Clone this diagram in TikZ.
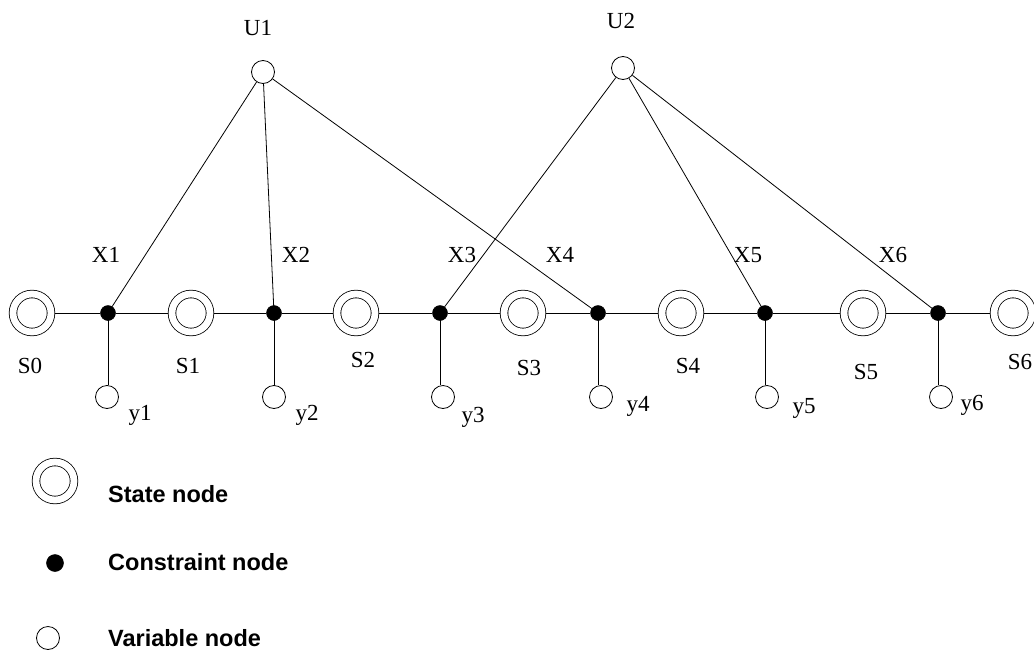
\documentclass[tikz,border=0pt]{standalone}
\usepackage{fontspec}
\setmainfont{Liberation Serif}
\newfontfamily\legendfont{Liberation Sans}
\begin{document}
\begin{tikzpicture}[x=1pt,y=-1pt,
  state/.style={circle,draw,line width=0.8pt,double,double distance=6.8pt,minimum size=38pt,inner sep=0pt,outer sep=4.2pt},
  con/.style={circle,fill=black,draw=black,line width=0.5pt,minimum size=15pt,inner sep=0pt},
  var/.style={circle,draw,line width=0.8pt,minimum size=23pt,inner sep=0pt},
  lab/.style={font=\fontsize{23}{27}\selectfont,inner sep=0pt},
  leg/.style={font=\legendfont\bfseries\fontsize{23.5}{28}\selectfont,anchor=west,inner sep=0pt},
  link/.style={line width=0.8pt}]
\useasboundingbox (0,0) rectangle (1034,651);

% state nodes
\node[state] (S0) at (32,313) {};
\node[state] (S1) at (191,313) {};
\node[state] (S2) at (356,313) {};
\node[state] (S3) at (523,313) {};
\node[state] (S4) at (681,313) {};
\node[state] (S5) at (863,313) {};
\node[state] (S6) at (1013,313) {};

% constraint nodes
\node[con] (X1) at (108,313) {};
\node[con] (X2) at (274,313) {};
\node[con] (X3) at (440,313) {};
\node[con] (X4) at (598,313) {};
\node[con] (X5) at (765,313) {};
\node[con] (X6) at (938,313) {};

% variable nodes
\node[var] (y1) at (107,397) {};
\node[var] (y2) at (274,397) {};
\node[var] (y3) at (443,397) {};
\node[var] (y4) at (601,397) {};
\node[var] (y5) at (767,397) {};
\node[var] (y6) at (941,397) {};
\node[var] (U1) at (263,72) {};
\node[var] (U2) at (623,68) {};

% chain
\draw[link] (S0) -- (X1) -- (S1) -- (X2) -- (S2) -- (X3) -- (S3) -- (X4) -- (S4) -- (X5) -- (S5) -- (X6) -- (S6);

% observations
\foreach \i in {1,...,6}
  \draw[link] (X\i.center) -- (X\i |- y\i.north);

% U links
\draw[link] (U1) -- (X1.center);
\draw[link] (U1) -- (X2.center);
\draw[link] (U1) -- (X4.center);
\draw[link] (U2) -- (X3.center);
\draw[link] (U2) -- (X5.center);
\draw[link] (U2) -- (X6.center);

% labels
\node[lab] (lU1) at (258,28) {U1};
\node[lab] (lU2) at (621,21) {U2};
\node[lab] (lX1) at (106,255) {X1};
\node[lab] (lX2) at (296,255) {X2};
\node[lab] (lX3) at (462,255) {X3};
\node[lab] (lX4) at (560,255) {X4};
\node[lab] (lX5) at (748,255) {X5};
\node[lab] (lX6) at (893,255) {X6};
\node[lab] (lS0) at (30,366) {S0};
\node[lab] (lS1) at (188,366) {S1};
\node[lab] (lS2) at (363,360) {S2};
\node[lab] (lS3) at (529,368) {S3};
\node[lab] (lS4) at (688,366) {S4};
\node[lab] (lS5) at (866,372) {S5};
\node[lab] (lS6) at (1020,362) {S6};
\node[lab] (ly1) at (140,415) {y1};
\node[lab] (ly2) at (307,415) {y2};
\node[lab] (ly3) at (473,417) {y3};
\node[lab] (ly4) at (638,406) {y4};
\node[lab] (ly5) at (804,408) {y5};
\node[lab] (ly6) at (972,405) {y6};

% legend
\node[state] (LS) at (55,481) {};
\node[con,minimum size=17pt] (LC) at (55,563) {};
\node[var] (LV) at (48,638) {};
\node[leg] (tS) at (108,494) {State node};
\node[leg] (tC) at (108,562) {Constraint node};
\node[leg] (tV) at (108,638) {Variable node};
\end{tikzpicture}
\end{document}
